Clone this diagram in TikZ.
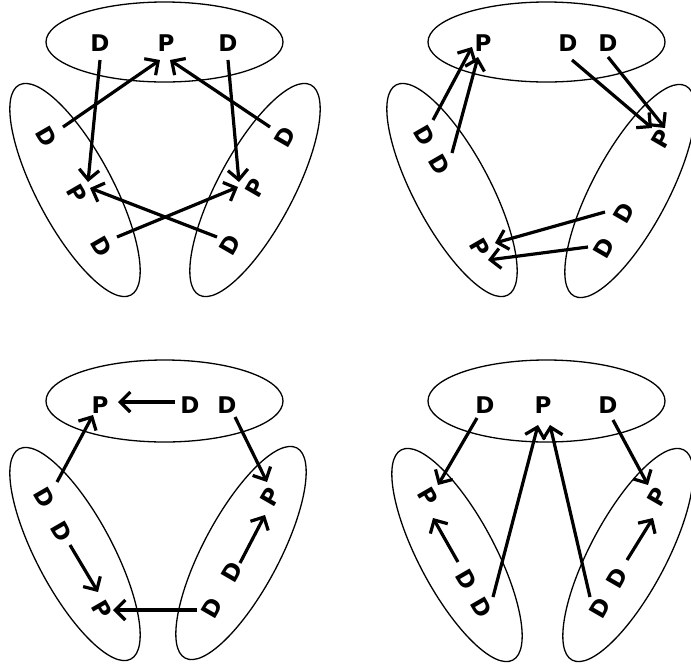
\documentclass[tikz,border=0pt]{standalone}
\usepackage{fontspec}
\newfontfamily\letterfont{DejaVu Sans}
\usetikzlibrary{arrows.meta}

\begin{document}
\begin{tikzpicture}[
  x=1pt, y=-1pt,
  letter/.style={font=\letterfont\bfseries\fontsize{23}{23}\selectfont, inner sep=0pt},
  lrot/.style={letter, rotate=-60},
  rrot/.style={letter, rotate=60},
  group/.style={draw, line width=1.3pt},
  arrow/.style={-{Straight Barb[length=10pt,width=20pt]}, line width=3.2pt}
]
\useasboundingbox (0,0) rectangle (691,665);

% panel a
\draw[group] (164.5,42) ellipse [x radius=118.5, y radius=40];
\draw[group, rotate around={-62:(75,190)}] (75,190) ellipse [x radius=119, y radius=38];
\draw[group, rotate around={62:(255,190)}] (255,190) ellipse [x radius=119, y radius=38];

\node[letter] (aD1) at (100,43) {D};
\node[letter] (aP) at (166,43) {P};
\node[letter] (aD2) at (228,43) {D};
\node[lrot] (aLD1) at (47,137) {D};
\node[lrot] (aLP) at (77,194) {P};
\node[lrot] (aLD2) at (102,247) {D};
\node[rrot] (aRD1) at (285,137) {D};
\node[rrot] (aRP) at (255,188) {P};
\node[rrot] (aRD2) at (230,245) {D};

\draw[arrow] ([shift={(0,17)}]aD1.center) -- ([shift={(11,-12)}]aLP.center);
\draw[arrow] ([shift={(0,17)}]aD2.center) -- ([shift={(-16,-6)}]aRP.center);
\draw[arrow] ([shift={(16,-10)}]aLD1.center) -- ([shift={(-6,17)}]aP.center);
\draw[arrow] ([shift={(-15,-10)}]aRD1.center) -- ([shift={(4,17)}]aP.center);
\draw[arrow] ([shift={(15,-10)}]aLD2.center) -- ([shift={(-17,-1)}]aRP.center);
\draw[arrow] ([shift={(-13,-8)}]aRD2.center) -- ([shift={(13,-6)}]aLP.center);

% panel b
\draw[group] (546.5,42) ellipse [x radius=118.5, y radius=40];
\draw[group, rotate around={-62:(452,190)}] (452,190) ellipse [x radius=119, y radius=38];
\draw[group, rotate around={62:(630,191)}] (630,191) ellipse [x radius=119, y radius=38];

\node[letter] (bP) at (483,43) {P};
\node[letter] (bD1) at (568,43) {D};
\node[letter] (bD2) at (608,43) {D};
\node[lrot] (bLD1) at (425,136) {D};
\node[lrot] (bLD2) at (440,165) {D};
\node[lrot] (bLP) at (480,248) {P};
\node[rrot] (bRP) at (661,139) {P};
\node[rrot] (bRD1) at (624,213) {D};
\node[rrot] (bRD2) at (604,248) {D};

\draw[arrow] ([shift={(8,-16)}]bLD1.center) -- ([shift={(-11,4)}]bP.center);
\draw[arrow] ([shift={(12,-12)}]bLD2.center) -- ([shift={(-5,14)}]bP.center);
\draw[arrow] ([shift={(4,17)}]bD1.center) -- ([shift={(-9,-11)}]bRP.center);
\draw[arrow] ([shift={(0,14)}]bD2.center) -- ([shift={(4,-11)}]bRP.center);
\draw[arrow] ([shift={(-19,-1)}]bRD1.center) -- ([shift={(15,-5)}]bLP.center);
\draw[arrow] ([shift={(-16,-1)}]bRD2.center) -- ([shift={(8,12)}]bLP.center);

% panel c
\draw[group] (164.5,401) ellipse [x radius=118.5, y radius=41];
\draw[group, rotate around={-62:(75,554)}] (75,554) ellipse [x radius=119, y radius=38];
\draw[group, rotate around={62:(241,553)}] (241,553) ellipse [x radius=119, y radius=38];

\node[letter] (cP) at (100,405) {P};
\node[letter] (cD1) at (190,405) {D};
\node[letter] (cD2) at (227,405) {D};
\node[lrot] (cLD1) at (45,498) {D};
\node[lrot] (cLD2) at (62,532) {D};
\node[lrot] (cLP) at (102,610) {P};
\node[rrot] (cRP) at (270,497) {P};
\node[rrot] (cRD1) at (232,572) {D};
\node[rrot] (cRD2) at (212,608) {D};

\draw[arrow] ([shift={(-15,-3)}]cD1.center) -- ([shift={(18,-3)}]cP.center);
\draw[arrow] ([shift={(12,-16)}]cLD1.center) -- ([shift={(-7,10)}]cP.center);
\draw[arrow] ([shift={(8,12)}]cD2.center) -- ([shift={(-3,-15)}]cRP.center);
\draw[arrow] ([shift={(8,13)}]cLD2.center) -- ([shift={(-4,-18)}]cLP.center);
\draw[arrow] ([shift={(8,-9)}]cRD1.center) -- ([shift={(-5,18)}]cRP.center);
\draw[arrow] ([shift={(-15,2)}]cRD2.center) -- ([shift={(11,0)}]cLP.center);

% panel d
\draw[group] (546.5,401) ellipse [x radius=118.5, y radius=41];
\draw[group, rotate around={-62:(457,555)}] (457,555) ellipse [x radius=119, y radius=38];
\draw[group, rotate around={62:(628,555)}] (628,555) ellipse [x radius=119, y radius=38];

\node[letter] (dD1) at (485,405) {D};
\node[letter] (dP) at (543,405) {P};
\node[letter] (dD2) at (608,405) {D};
\node[lrot] (dLP) at (428,497) {P};
\node[lrot] (dLD1) at (467,580) {D};
\node[lrot] (dLD2) at (482,608) {D};
\node[rrot] (dRP) at (657,497) {P};
\node[rrot] (dRD1) at (617,578) {D};
\node[rrot] (dRD2) at (600,608) {D};

\draw[arrow] ([shift={(-8,13)}]dD1.center) -- ([shift={(10,-12)}]dLP.center);
\draw[arrow] ([shift={(-9,-18)}]dLD1.center) -- ([shift={(5,21)}]dLP.center);
\draw[arrow] ([shift={(11,-11)}]dLD2.center) -- ([shift={(-5,20)}]dP.center);
\draw[arrow] ([shift={(-10,-11)}]dRD2.center) -- ([shift={(7,20)}]dP.center);
\draw[arrow] ([shift={(5,15)}]dD2.center) -- ([shift={(-9,-12)}]dRP.center);
\draw[arrow] ([shift={(10,-18)}]dRD1.center) -- ([shift={(-4,21)}]dRP.center);

\end{tikzpicture}
\end{document}
